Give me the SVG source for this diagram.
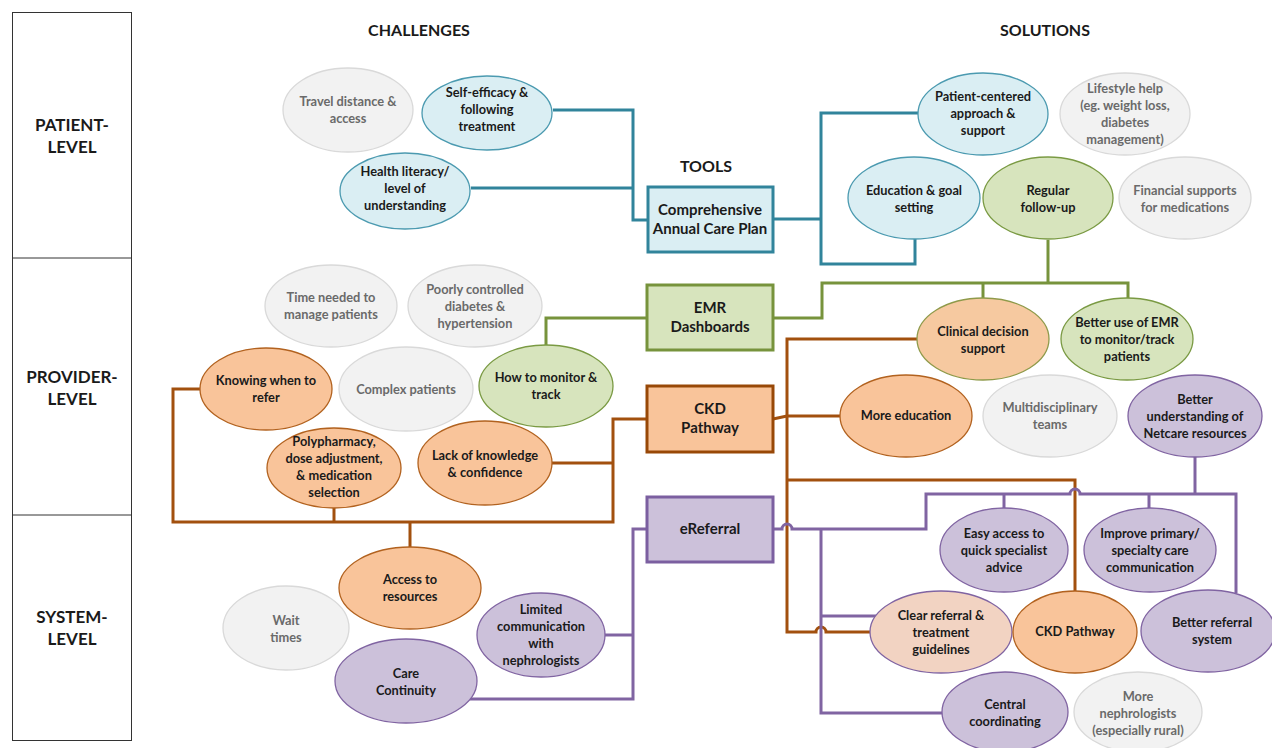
<svg xmlns="http://www.w3.org/2000/svg" width="1272" height="748" viewBox="0 0 1272 748">
<style>
text{font-family:Lato,"Liberation Sans",sans-serif;font-weight:bold;text-anchor:middle;fill:#1a1a1a}
.t{font-size:12.8px}
.g text{fill:#6a6a6a}
.bx{font-size:15px}
.hd{font-size:16px}
.lv{font-size:17px}
ellipse{stroke-width:1.3}
.blue ellipse,.blue rect{fill:#daeef3;stroke:#4b9ab0}
.green ellipse,.green rect{fill:#d7e4bd;stroke:#7a9a43}
.orange ellipse,.orange rect{fill:#f9c49a;stroke:#b2621f}
.purple ellipse,.purple rect{fill:#ccc1da;stroke:#8064a2}
.g ellipse{fill:#f2f2f2;stroke:#d9d9d9}
rect.box{stroke-width:3}
.blue rect{stroke:#31849b}
.green rect{stroke:#77933c}
.orange rect{stroke:#984807}
.purple rect{stroke:#7b5fa0}
#connectors path{fill:none;stroke-width:3}
.cb{stroke:#31849b}
.cg{stroke:#77933c}
.co{stroke:#a2500e}
.cp{stroke:#8064a2}
</style>
<g id="levels">
<rect x="12.5" y="12.5" width="119" height="728" fill="#fff" stroke="#333" stroke-width="1"/>
<line x1="12.5" y1="258" x2="131.5" y2="258" stroke="#333" stroke-width="1"/>
<line x1="12.5" y1="515" x2="131.5" y2="515" stroke="#333" stroke-width="1"/>
<text class="lv" x="72" y="131">PATIENT-</text><text class="lv" x="72" y="153">LEVEL</text>
<text class="lv" x="72" y="383">PROVIDER-</text><text class="lv" x="72" y="405">LEVEL</text>
<text class="lv" x="72" y="623">SYSTEM-</text><text class="lv" x="72" y="645">LEVEL</text>
</g>
<g id="headers">
<text class="hd" x="419" y="36">CHALLENGES</text>
<text class="hd" x="1045" y="36">SOLUTIONS</text>
<text class="hd" x="706" y="172">TOOLS</text>
</g>
<g id="connectors">
<path class="cb" d="M553,110 H633 V220 H648"/>
<path class="cb" d="M471,188 H633"/>
<path class="cb" d="M773,219 H821"/>
<path class="cb" d="M918,113 H821 V264 H915 V239"/>
<path class="cg" d="M647,318 H546 V345"/>
<path class="cg" d="M773,318 H822 V283 H1128 V298"/>
<path class="cg" d="M1048,240 V283"/>
<path class="cg" d="M983,283 V298"/>
<path class="co" d="M647,419 H613 V522 H173 V389 H200"/>
<path class="co" d="M552,463 H613"/>
<path class="co" d="M334,508 V522"/>
<path class="co" d="M410,522 V547"/>
<path class="co" d="M773,419 L787,416"/>
<path class="co" d="M917,339 H787 V632 H816 a5,5 0 0 1 10,0 H870"/>
<path class="co" d="M787,416 H840"/>
<path class="co" d="M787,480 H1075 V592"/>
<path class="cp" d="M647,529 H633 V699 H470"/>
<path class="cp" d="M604,635 H633"/>
<path class="cp" d="M773,529 H782 a5,5 0 0 1 10,0 H926 V494 H1070 a5,5 0 0 1 10,0 H1236 V593"/>
<path class="cp" d="M1195,457 V494"/>
<path class="cp" d="M1004,494 V509"/>
<path class="cp" d="M1149,494 V509"/>
<path class="cp" d="M821,529 V713 H943"/>
<path class="cp" d="M821,616 H876"/>
</g>
<g id="travel" class="g"><ellipse cx="348" cy="110" rx="65" ry="42"/><text class="t" x="348" y="106">Travel distance &amp;</text><text class="t" x="348" y="123">access</text></g>
<g id="selfefficacy" class="blue"><ellipse cx="487" cy="113" rx="65" ry="37"/><text class="t" x="487" y="97">Self-efficacy &amp;</text><text class="t" x="487" y="114">following</text><text class="t" x="487" y="131">treatment</text></g>
<g id="healthliteracy" class="blue"><ellipse cx="405" cy="191" rx="65" ry="38"/><text class="t" x="405" y="176">Health literacy/</text><text class="t" x="405" y="193">level of</text><text class="t" x="405" y="210">understanding</text></g>
<g id="timeneeded" class="g"><ellipse cx="331" cy="306" rx="66" ry="41"/><text class="t" x="331" y="302">Time needed to</text><text class="t" x="331" y="319">manage patients</text></g>
<g id="poorly" class="g"><ellipse cx="475" cy="306" rx="67" ry="41"/><text class="t" x="475" y="294">Poorly controlled</text><text class="t" x="475" y="311">diabetes &amp;</text><text class="t" x="475" y="328">hypertension</text></g>
<g id="knowing" class="orange"><ellipse cx="266" cy="389" rx="66" ry="41"/><text class="t" x="266" y="385">Knowing when to</text><text class="t" x="266" y="402">refer</text></g>
<g id="complex" class="g"><ellipse cx="406" cy="389" rx="67" ry="42"/><text class="t" x="406" y="394">Complex patients</text></g>
<g id="howmonitor" class="green"><ellipse cx="546" cy="386" rx="67" ry="41"/><text class="t" x="546" y="382">How to monitor &amp;</text><text class="t" x="546" y="399">track</text></g>
<g id="polypharmacy" class="orange"><ellipse cx="334" cy="468" rx="67" ry="40"/><text class="t" x="334" y="446">Polypharmacy,</text><text class="t" x="334" y="463">dose adjustment,</text><text class="t" x="334" y="480">&amp; medication</text><text class="t" x="334" y="497">selection</text></g>
<g id="lackknowledge" class="orange"><ellipse cx="485" cy="463" rx="67" ry="42"/><text class="t" x="485" y="460">Lack of knowledge</text><text class="t" x="485" y="477">&amp; confidence</text></g>
<g id="access" class="orange"><ellipse cx="410" cy="588" rx="71" ry="41"/><text class="t" x="410" y="584">Access to</text><text class="t" x="410" y="601">resources</text></g>
<g id="wait" class="g"><ellipse cx="286" cy="628" rx="63" ry="42"/><text class="t" x="286" y="625">Wait</text><text class="t" x="286" y="642">times</text></g>
<g id="limited" class="purple"><ellipse cx="541" cy="635" rx="64" ry="42"/><text class="t" x="541" y="614">Limited</text><text class="t" x="541" y="631">communication</text><text class="t" x="541" y="648">with</text><text class="t" x="541" y="665">nephrologists</text></g>
<g id="carecontinuity" class="purple"><ellipse cx="406" cy="681" rx="71" ry="42"/><text class="t" x="406" y="678">Care</text><text class="t" x="406" y="695">Continuity</text></g>
<g id="careplan" class="blue"><rect class="box" x="648" y="187" width="125" height="65"/><text class="bx" x="710" y="215">Comprehensive</text><text class="bx" x="710" y="234">Annual Care Plan</text></g>
<g id="emr" class="green"><rect class="box" x="647" y="285" width="126" height="65"/><text class="bx" x="710" y="313">EMR</text><text class="bx" x="710" y="332">Dashboards</text></g>
<g id="ckd" class="orange"><rect class="box" x="647" y="386" width="126" height="66"/><text class="bx" x="710" y="414">CKD</text><text class="bx" x="710" y="433">Pathway</text></g>
<g id="ereferral" class="purple"><rect class="box" x="647" y="497" width="126" height="65"/><text class="bx" x="710" y="534">eReferral</text></g>
<g id="patientcentered" class="blue"><ellipse cx="983" cy="114" rx="65" ry="41"/><text class="t" x="983" y="101">Patient-centered</text><text class="t" x="983" y="118">approach &amp;</text><text class="t" x="983" y="135">support</text></g>
<g id="lifestyle" class="g"><ellipse cx="1125" cy="114" rx="65" ry="41"/><text class="t" x="1125" y="93">Lifestyle help</text><text class="t" x="1125" y="110">(eg. weight loss,</text><text class="t" x="1125" y="127">diabetes</text><text class="t" x="1125" y="144">management)</text></g>
<g id="education" class="blue"><ellipse cx="914" cy="198" rx="66" ry="41"/><text class="t" x="914" y="195">Education &amp; goal</text><text class="t" x="914" y="212">setting</text></g>
<g id="regular" class="green"><ellipse cx="1048" cy="198" rx="65" ry="41"/><text class="t" x="1048" y="195">Regular</text><text class="t" x="1048" y="212">follow-up</text></g>
<g id="financial" class="g"><ellipse cx="1185" cy="198" rx="66" ry="41"/><text class="t" x="1185" y="195">Financial supports</text><text class="t" x="1185" y="212">for medications</text></g>
<g id="cds" class="orange"><ellipse cx="983" cy="339" rx="66" ry="41" style="fill:#f6c9a0;stroke:#8f9a4a"/><text class="t" x="983" y="336">Clinical decision</text><text class="t" x="983" y="353">support</text></g>
<g id="betteremr" class="green"><ellipse cx="1127" cy="339" rx="66" ry="41"/><text class="t" x="1127" y="327">Better use of EMR</text><text class="t" x="1127" y="344">to monitor/track</text><text class="t" x="1127" y="361">patients</text></g>
<g id="moreeducation" class="orange"><ellipse cx="906" cy="416" rx="66" ry="41"/><text class="t" x="906" y="420">More education</text></g>
<g id="multidisciplinary" class="g"><ellipse cx="1050" cy="416" rx="67" ry="41"/><text class="t" x="1050" y="412">Multidisciplinary</text><text class="t" x="1050" y="429">teams</text></g>
<g id="betterunderstanding" class="purple"><ellipse cx="1195" cy="416" rx="67" ry="41"/><text class="t" x="1195" y="404">Better</text><text class="t" x="1195" y="421">understanding of</text><text class="t" x="1195" y="438">Netcare resources</text></g>
<g id="easyaccess" class="purple"><ellipse cx="1004" cy="550" rx="64" ry="42"/><text class="t" x="1004" y="538">Easy access to</text><text class="t" x="1004" y="555">quick specialist</text><text class="t" x="1004" y="572">advice</text></g>
<g id="improve" class="purple"><ellipse cx="1150" cy="550" rx="66" ry="42"/><text class="t" x="1150" y="538">Improve primary/</text><text class="t" x="1150" y="555">specialty care</text><text class="t" x="1150" y="572">communication</text></g>
<g id="clearreferral" class="purple"><ellipse cx="941" cy="632" rx="71" ry="41" style="fill:#f2d3c2"/><text class="t" x="941" y="620">Clear referral &amp;</text><text class="t" x="941" y="637">treatment</text><text class="t" x="941" y="654">guidelines</text></g>
<g id="ckdpathway" class="orange"><ellipse cx="1075" cy="632" rx="62" ry="41"/><text class="t" x="1075" y="636">CKD Pathway</text></g>
<g id="betterreferral" class="purple"><ellipse cx="1208" cy="631" rx="67" ry="41"/><text class="t" x="1212" y="627">Better referral</text><text class="t" x="1212" y="644">system</text></g>
<g id="central" class="purple"><ellipse cx="1005" cy="712" rx="63" ry="40"/><text class="t" x="1005" y="709">Central</text><text class="t" x="1005" y="726">coordinating</text></g>
<g id="morenephrologists" class="g"><ellipse cx="1138" cy="712" rx="64" ry="40"/><text class="t" x="1138" y="701">More</text><text class="t" x="1138" y="718">nephrologists</text><text class="t" x="1138" y="735">(especially rural)</text></g>
</svg>
